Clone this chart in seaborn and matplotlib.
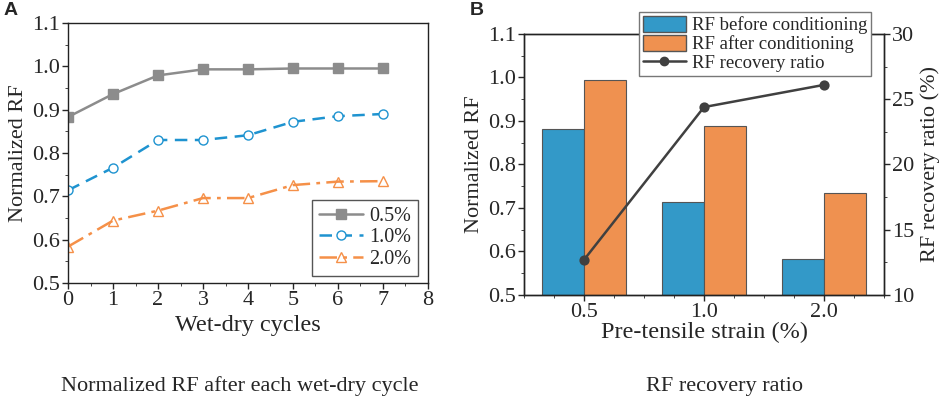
import numpy as np
import pandas as pd
import matplotlib
matplotlib.use("Agg")
import matplotlib.pyplot as plt
import seaborn as sns
from matplotlib.ticker import MultipleLocator, FormatStrFormatter
from matplotlib.patches import Patch
from matplotlib.lines import Line2D

# 資料 (A) 每次乾濕循環後的 Normalized RF
cycles = [0, 1, 2, 3, 4, 5, 6, 7]
rf_05 = [0.883, 0.936, 0.979, 0.993, 0.993, 0.995, 0.995, 0.995]
rf_10 = [0.714, 0.766, 0.830, 0.830, 0.841, 0.872, 0.885, 0.890]
rf_20 = [0.584, 0.644, 0.667, 0.696, 0.696, 0.726, 0.734, 0.735]
series_names = ["0.5%", "1.0%", "2.0%"]

# 資料 (B) 預拉伸應變
strain = ["0.5", "1.0", "2.0"]
rf_before = [0.882, 0.714, 0.583]
rf_after = [0.994, 0.889, 0.735]
recovery = [12.7, 24.4, 26.1]

sns.set_style("ticks")
plt.rcParams["font.family"] = ["Liberation Serif", "DejaVu Serif"]
plt.rcParams["axes.linewidth"] = 1.0
plt.rcParams["xtick.major.size"] = 4
plt.rcParams["ytick.major.size"] = 4
plt.rcParams["xtick.minor.size"] = 2.5
plt.rcParams["ytick.minor.size"] = 2.5
plt.rcParams["xtick.minor.visible"] = True
plt.rcParams["ytick.minor.visible"] = True

fig = plt.figure(figsize=(9.41, 3.99), dpi=100)
axA = fig.add_axes([0.0723, 0.2907, 0.3825, 0.6517])
axB = fig.add_axes([0.5569, 0.2607, 0.3825, 0.6541])

# ---------------- A ----------------
styles = [
    dict(color="#8c8c8c", ls="-", marker="s", mfc="#8c8c8c", mec="#8c8c8c"),
    dict(color="#1e93d0", ls=(0, (5, 3)), marker="o", mfc="white", mec="#1e93d0"),
    dict(color="#f59048", ls=(0, (7, 2.5, 1.5, 2.5)), marker="^", mfc="none", mec="#f59048"),
]
for name, vals, st in zip(series_names, [rf_05, rf_10, rf_20], styles):
    sns.lineplot(x=cycles, y=vals, ax=axA, color=st["color"], linestyle=st["ls"],
                 marker=st["marker"], markerfacecolor=st["mfc"], markeredgecolor=st["mec"],
                 markersize=6.5, markeredgewidth=1.0, linewidth=1.8, label=name)

axA.set_xlim(0, 8)
axA.set_ylim(0.5, 1.1)
axA.xaxis.set_major_locator(MultipleLocator(1))
axA.xaxis.set_minor_locator(MultipleLocator(0.5))
axA.yaxis.set_major_locator(MultipleLocator(0.1))
axA.yaxis.set_minor_locator(MultipleLocator(0.05))
axA.yaxis.set_major_formatter(FormatStrFormatter("%.1f"))
axA.tick_params(labelsize=16, width=1.0, pad=2)
for sp in axA.spines.values():
    sp.set_visible(True)
    sp.set_color("#222222")
axA.set_xlabel("Wet-dry cycles", fontsize=17.5, labelpad=3)
axA.set_ylabel("Normalized RF", fontsize=16, labelpad=3)
legA = axA.legend(loc="lower right", fontsize=14.5, frameon=True, fancybox=False,
                  edgecolor="#555555", framealpha=1.0, handlelength=2.2, borderpad=0.35,
                  labelspacing=0.12, handletextpad=0.3, borderaxespad=0)
legA.set_bbox_to_anchor((418 / 941, 1 - 276 / 399), transform=fig.transFigure)
legA.get_frame().set_linewidth(1.0)

# ---------------- B ----------------
dfB = pd.DataFrame({
    "strain": strain * 2,
    "rf": rf_before + rf_after,
    "kind": ["RF before conditioning"] * 3 + ["RF after conditioning"] * 3,
})
sns.barplot(data=dfB, x="strain", y="rf", hue="kind", ax=axB, width=0.7,
            palette=["#3399c8", "#ef9150"], edgecolor="#555555", linewidth=0.8,
            saturation=1.0, legend=False)
axB.set_ylim(0.5, 1.1)
axB.set_xlim(-0.5, 2.5)
axB.yaxis.set_major_locator(MultipleLocator(0.1))
axB.yaxis.set_minor_locator(MultipleLocator(0.05))
axB.yaxis.set_major_formatter(FormatStrFormatter("%.1f"))
axB.xaxis.set_minor_locator(MultipleLocator(0.25))
axB.tick_params(labelsize=16, width=1.0, pad=2)
axB.set_xlabel("Pre-tensile strain (%)", fontsize=17.5, labelpad=0)
axB.set_ylabel("Normalized RF", fontsize=16, labelpad=3)

axB2 = axB.twinx()
sns.pointplot(x=strain, y=recovery, ax=axB2, color="#404040", markers="o",
              markersize=6, linewidth=1.8)
axB2.set_xlim(-0.5, 2.5)
axB2.set_ylim(10, 30)
axB2.yaxis.set_major_locator(MultipleLocator(5))
axB2.yaxis.set_minor_locator(MultipleLocator(2.5))
axB2.tick_params(labelsize=16, width=1.0, pad=2)
axB2.set_ylabel("RF recovery ratio (%)", fontsize=16, labelpad=4)
for sp in list(axB.spines.values()) + list(axB2.spines.values()):
    sp.set_visible(True)
    sp.set_color("#222222")

handles = [
    Patch(facecolor="#3399c8", edgecolor="#555555", label="RF before conditioning"),
    Patch(facecolor="#ef9150", edgecolor="#555555", label="RF after conditioning"),
    Line2D([], [], color="#404040", marker="o", markersize=6, linewidth=1.8, label="RF recovery ratio"),
]
legB = fig.legend(handles=handles, loc="upper left", bbox_to_anchor=(639 / 941, 1 - 12 / 399),
                  fontsize=13.5, frameon=True, fancybox=False, edgecolor="#777777",
                  framealpha=1.0, borderpad=0.2, labelspacing=0.02, handlelength=2.3,
                  handleheight=0.95, handletextpad=0.3, borderaxespad=0)
legB.get_frame().set_linewidth(1.0)

# 面板標籤與圖說
fig.text(0.004, 0.995, "A", fontsize=14, fontweight="bold", family="Liberation Sans", va="top")
fig.text(0.499, 0.995, "B", fontsize=14, fontweight="bold", family="Liberation Sans", va="top")
fig.text(240 / 941, 1 - 386 / 399, "Normalized RF after each wet-dry cycle", fontsize=16,
         ha="center", va="center")
fig.text(725 / 941, 1 - 387 / 399, "RF recovery ratio", fontsize=16, ha="center", va="center")

fig.savefig("out.png", dpi=100)
